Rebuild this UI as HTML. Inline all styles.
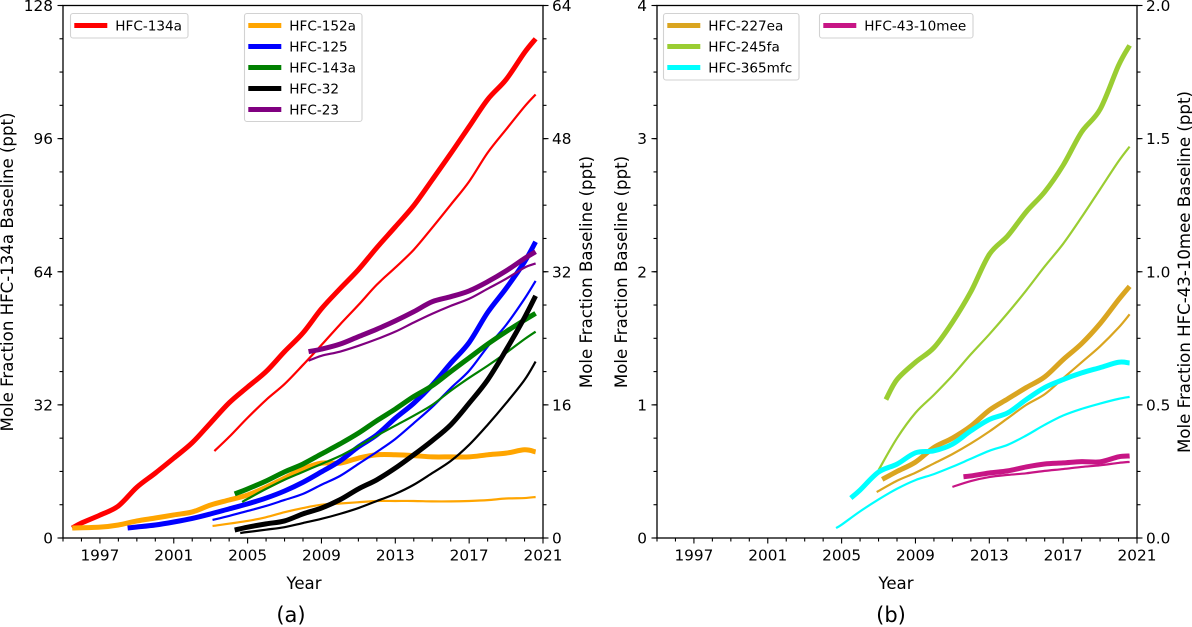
<!DOCTYPE html>
<html lang="en">
<head>
<meta charset="utf-8">
<title>HFC mole fractions</title>
<style>
html,body{margin:0;padding:0;background:#fff;}
svg{display:block;font-family:"DejaVu Sans","Liberation Sans",sans-serif;fill:#000;}
</style>
</head>
<body>
<svg id="chart" xmlns="http://www.w3.org/2000/svg" width="1192" height="627" viewBox="0 0 1192 627"></svg>
<script>
// ---- shared axis data ----
const xTickLabels = [1997, 2001, 2005, 2009, 2013, 2017, 2021];
const xDomain = [1995, 2021];
const yLeftTicksA = [0, 32, 64, 96, 128];
const yRightTicksA = [0, 16, 32, 48, 64];
const yLeftTicksB = [0, 1, 2, 3, 4];
const yRightTicksB = ["0.0", "0.5", "1.0", "1.5", "2.0"];

// ---- panel (a) data: HFC-134a in ppt on the left axis, others on the right axis ----
const yearsFull134 = [1995.5,1996,1997,1998,1999,2000,2001,2002,2003,2004,2005,2006,2007,2008,2009,2010,2011,2012,2013,2014,2015,2016,2017,2018,2019,2020,2020.6];
const hfc134aThick = [2.4,3.6,5.5,7.7,12.2,15.6,19.2,22.9,27.7,32.5,36.3,40,44.8,49.3,55.1,59.9,64.5,69.8,74.8,79.9,86.1,92.4,98.9,105.4,110.2,116.7,120];
const yearsThin134 = [2003.2,2004,2005,2006,2007,2008,2009,2010,2011,2012,2013,2014,2015,2016,2017,2018,2019,2020,2020.6];
const hfc134aThin = [20.9,24.3,28.9,33.2,37,41.6,46.4,51.3,56,60.9,65,69.3,74.6,80.1,85.7,92.6,98.2,103.7,106.6];

const yearsThick152 = [1995.5,1997,1998,1999,2000,2001,2002,2003,2004,2005,2006,2007,2008,2009,2010,2011,2012,2013,2014,2015,2016,2017,2018,2019,2020,2020.6];
const hfc152aThick = [1.2,1.3,1.56,2.05,2.4,2.77,3.13,3.97,4.57,5.17,6.1,7.2,8.3,9,9,9.6,10,10,9.9,9.75,9.75,9.75,10,10.2,10.6,10.35];
const yearsThin152 = [2003.1,2005,2006,2007,2008,2009,2010,2011,2012,2013,2014,2015,2016,2017,2018,2019,2020,2020.6];
const hfc152aThin = [1.44,2.05,2.5,3.1,3.6,4,4.15,4.3,4.45,4.45,4.45,4.4,4.4,4.45,4.55,4.75,4.8,4.93];

const yearsThick125 = [1998.5,1999,2000,2001,2002,2003,2004,2005,2006,2007,2008,2009,2010,2011,2012,2013,2014,2015,2016,2017,2018,2019,2020,2020.6];
const hfc125Thick = [1.2,1.32,1.56,1.92,2.35,2.9,3.5,4.1,4.8,5.65,6.7,7.95,9.25,10.95,12.4,14.4,16.2,18.4,21,23.5,27.1,30,33.2,35.6];
const yearsThin125 = [2003.1,2004,2005,2006,2007,2008,2009,2010,2011,2012,2013,2014,2015,2016,2017,2018,2019,2020,2020.6];
const hfc125Thin = [2.17,2.65,3.25,3.85,4.57,5.3,6.4,7.45,8.9,10.35,11.9,13.8,15.75,18,20.1,23,25.6,28.75,30.9];

const yearsThick143 = [2004.3,2005,2006,2007,2008,2009,2010,2011,2012,2013,2014,2015,2016,2017,2018,2019,2020,2020.6];
const hfc143aThick = [5.3,5.9,6.85,7.95,8.9,10.1,11.3,12.6,14.1,15.5,17,18.3,20,21.65,23.3,24.8,26.2,27];
const yearsThin143 = [2004.7,2005,2006,2007,2008,2009,2010,2011,2012,2013,2014,2015,2016,2017,2018,2019,2020,2020.6];
const hfc143aThin = [4.33,4.7,5.9,7,7.95,8.9,9.85,11.05,12.3,13.5,14.7,16,17.7,19.25,20.7,22.25,23.9,24.8];

const yearsThick32 = [2004.3,2005,2006,2007,2008,2009,2010,2011,2012,2013,2014,2015,2016,2017,2018,2019,2020,2020.6];
const hfc32Thick = [0.96,1.3,1.7,2.05,2.9,3.6,4.6,5.9,7,8.4,10,11.7,13.6,16.2,19,22.6,26.5,29.1];
const yearsThin32 = [2004.6,2005,2006,2007,2008,2009,2010,2011,2012,2013,2014,2015,2016,2017,2018,2019,2020,2020.6];
const hfc32Thin = [0.6,0.72,1,1.3,1.8,2.3,2.9,3.6,4.45,5.3,6.4,7.8,9.25,11.2,13.6,16.2,19,21.2];

const years23 = [2008.3,2009,2010,2011,2012,2013,2014,2015,2016,2017,2018,2019,2020,2020.6];
const hfc23Thick = [22.4,22.7,23.3,24.2,25.1,26.1,27.2,28.4,29,29.7,30.8,32.1,33.6,34.4];
const hfc23Thin = [21.3,21.9,22.4,23.1,23.9,24.8,25.9,26.95,27.9,28.75,29.95,31.15,32.5,33];

// ---- panel (b) data: 43-10mee on the right axis, others on the left axis ----
const yearsThick245 = [2007.4,2008,2009,2010,2011,2012,2013,2014,2015,2016,2017,2018,2019,2020,2020.6];
const hfc245faThick = [1.04,1.19,1.32,1.43,1.62,1.85,2.13,2.27,2.45,2.6,2.8,3.05,3.22,3.55,3.7];
const yearsThin245 = [2007,2008,2009,2010,2011,2012,2013,2014,2015,2016,2017,2018,2019,2020,2020.6];
const hfc245faThin = [0.51,0.75,0.94,1.075,1.22,1.38,1.53,1.69,1.86,2.04,2.21,2.41,2.62,2.83,2.94];

const yearsThick227 = [2007.2,2008,2009,2010,2011,2012,2013,2014,2015,2016,2017,2018,2019,2020,2020.6];
const hfc227eaThick = [0.44,0.5,0.57,0.68,0.75,0.84,0.96,1.045,1.13,1.21,1.34,1.46,1.61,1.79,1.89];
const yearsThin227 = [2006.9,2008,2009,2010,2011,2012,2013,2014,2015,2016,2017,2018,2019,2020,2020.6];
const hfc227eaThin = [0.345,0.43,0.49,0.56,0.63,0.71,0.8,0.9,1,1.08,1.2,1.32,1.44,1.58,1.68];

const yearsThick365 = [2005.5,2006,2007,2008,2009,2010,2011,2012,2013,2014,2015,2016,2017,2018,2019,2020,2020.6];
const hfc365mfcThick = [0.3,0.36,0.495,0.555,0.64,0.655,0.705,0.805,0.89,0.94,1.04,1.13,1.19,1.24,1.28,1.32,1.315];
const yearsThin365 = [2004.7,2005,2006,2007,2008,2009,2010,2011,2012,2013,2014,2015,2016,2017,2018,2019,2020,2020.6];
const hfc365mfcThin = [0.075,0.1,0.2,0.29,0.37,0.435,0.48,0.535,0.595,0.655,0.7,0.77,0.85,0.92,0.97,1.01,1.045,1.06];

const yearsThick4310 = [2011.6,2012,2013,2014,2015,2016,2017,2018,2019,2020,2020.6];
const hfc4310meeThick = [0.23,0.233,0.244,0.252,0.267,0.278,0.282,0.287,0.286,0.305,0.308];
const yearsThin4310 = [2011,2012,2013,2014,2015,2016,2017,2018,2019,2020,2020.6];
const hfc4310meeThin = [0.192,0.214,0.229,0.237,0.243,0.252,0.259,0.267,0.273,0.282,0.286];

// ---- helpers ----
const NS = "http://www.w3.org/2000/svg";
const root = document.getElementById("chart");
const TOP = 5.5, BOTTOM = 538;

function svgEl(tag, attrs, parent) {
  const el = document.createElementNS(NS, tag);
  for (const k in attrs) el.setAttribute(k, attrs[k]);
  parent.appendChild(el);
  return el;
}
function scaleX(panelLeft) {
  return function (year) {
    return panelLeft + (year - xDomain[0]) / (xDomain[1] - xDomain[0]) * 480;
  };
}
function scaleY(maxValue) {
  return function (value) {
    return BOTTOM - value / maxValue * (BOTTOM - TOP);
  };
}
function tick(parent, x1, y1, x2, y2, w) {
  const t = svgEl("line", { x1: x1, y1: y1, x2: x2, y2: y2, stroke: "#000", "stroke-width": w }, parent);
  
  
}
function label(parent, text, x, y, size, anchor, rotate, name) {
  const attrs = { x: x, y: y, "font-size": size, "text-anchor": anchor, fill: "#000" };
  if (rotate) attrs.transform = "rotate(" + rotate + " " + x + " " + y + ")";
  const t = svgEl("text", attrs, parent);
  t.textContent = text;
  
  
}
function smoothPath(pts) {
  // Catmull-Rom spline through the scaled data points
  let d = "M" + pts[0][0].toFixed(2) + " " + pts[0][1].toFixed(2);
  for (let i = 0; i < pts.length - 1; i++) {
    const p0 = pts[Math.max(i - 1, 0)], p1 = pts[i], p2 = pts[i + 1], p3 = pts[Math.min(i + 2, pts.length - 1)];
    const c1x = p1[0] + (p2[0] - p0[0]) / 6, c1y = p1[1] + (p2[1] - p0[1]) / 6;
    const c2x = p2[0] - (p3[0] - p1[0]) / 6, c2y = p2[1] - (p3[1] - p1[1]) / 6;
    d += "C" + c1x.toFixed(2) + " " + c1y.toFixed(2) + " " + c2x.toFixed(2) + " " + c2y.toFixed(2) + " " + p2[0].toFixed(2) + " " + p2[1].toFixed(2);
  }
  return d;
}
function drawSeries(parent, sx, sy, years, values, color, width, name) {
  const pts = years.map(function (yr, i) {
    return [sx(yr), sy(values[i])];
  });
  const p = svgEl("path", { d: smoothPath(pts), fill: "none", stroke: color, "stroke-width": width, "stroke-linejoin": "round" }, parent);
  
  
}
function drawLegend(parent, x, y, w, h, entries, name) {
  const g = svgEl("g", {}, parent);
  
  
  const box = svgEl("rect", { x: x, y: y, width: w, height: h, rx: 2.5, fill: "#fff", stroke: "#d2d2d2", "stroke-width": 1.1 }, g);
  
  
  entries.forEach(function (en, i) {
    const ly = y + 12 + i * 21;
    const sw = svgEl("line", { x1: x + 3.8, x2: x + 36.8, y1: ly, y2: ly, stroke: en[1], "stroke-width": 5 }, g);
    
    
    label(g, en[0], x + 44.8, ly + 5, 13.6, "start", 0, 'legend-entry');
  });
}
function drawFrame(parent, left, yLeftLabels, yRightLabels, leftMinorStep, rightMinorStep, maxL, maxR, titleL, titleR, titleLX, titleRX, xTitleX, panelTitle, panelTitleX) {
  const right = left + 480;
  const sx = scaleX(left);
  const sl = scaleY(maxL), sr = scaleY(maxR);
  for (let yr = xDomain[0]; yr <= xDomain[1]; yr++) {
    tick(parent, sx(yr), BOTTOM, sx(yr), BOTTOM + ((yr - 1997) % 4 === 0 ? 5.5 : 3.5), 1.1);
  }
  for (let v = 0; v <= maxL + 1e-9; v += leftMinorStep) {
    tick(parent, left, sl(v), left - 3.5, sl(v), 1.1);
  }
  for (let v = 0; v <= maxR + 1e-9; v += rightMinorStep) {
    tick(parent, right, sr(v), right + 3.5, sr(v), 1.1);
  }
  yLeftLabels.forEach(function (v) {
    tick(parent, left, sl(+v), left - 5.5, sl(+v), 1.1);
    label(parent, String(v), left - 10, sl(+v) + 5.6, 15.3, "end", 0, 'y-left-tick-label');
  });
  yRightLabels.forEach(function (v) {
    tick(parent, right, sr(+v), right + 5.5, sr(+v), 1.1);
    label(parent, String(v), right + 9, sr(+v) + 5.6, 15.3, "start", 0, 'y-right-tick-label');
  });
  xTickLabels.forEach(function (v) {
    label(parent, String(v), sx(v), 560.5, 15.3, "middle", 0, 'x-tick-label');
  });
  const frame = svgEl("rect", { x: left, y: TOP, width: 480, height: BOTTOM - TOP, fill: "none", stroke: "#000", "stroke-width": 1.3 }, parent);
  
  
  label(parent, "Year", xTitleX, 589, 16.6, "middle", 0, 'x-axis-title');
  label(parent, titleL, titleLX, 272, 16.6, "middle", -90, 'y-left-axis-title');
  label(parent, titleR, titleRX, 272, 16.6, "middle", -90, 'y-right-axis-title');
  label(parent, panelTitle, panelTitleX, 622, 21, "middle", 0, 'panel-caption');
}

// ---- panel (a) ----
const panelA = svgEl("g", {}, root);


drawFrame(panelA, 63, yLeftTicksA, yRightTicksA, 8, 4, 128, 64,
  "Mole Fraction HFC-134a Baseline (ppt)", "Mole Fraction Baseline (ppt)", 13, 592, 304, "(a)", 291);
const axL = scaleX(63), aL = scaleY(128), aR = scaleY(64);
drawSeries(panelA, axL, aL, yearsFull134, hfc134aThick, "#ff0000", 5, 'hfc-134a-thick-line');
drawSeries(panelA, axL, aL, yearsThin134, hfc134aThin, "#ff0000", 2.2, 'hfc-134a-thin-line');
drawSeries(panelA, axL, aR, yearsThick152, hfc152aThick, "#ffa500", 5, 'hfc-152a-thick-line');
drawSeries(panelA, axL, aR, yearsThin152, hfc152aThin, "#ffa500", 2.2, 'hfc-152a-thin-line');
drawSeries(panelA, axL, aR, yearsThick125, hfc125Thick, "#0000ff", 5, 'hfc-125-thick-line');
drawSeries(panelA, axL, aR, yearsThin125, hfc125Thin, "#0000ff", 2.2, 'hfc-125-thin-line');
drawSeries(panelA, axL, aR, yearsThick143, hfc143aThick, "#008000", 5, 'hfc-143a-thick-line');
drawSeries(panelA, axL, aR, yearsThin143, hfc143aThin, "#008000", 2.2, 'hfc-143a-thin-line');
drawSeries(panelA, axL, aR, yearsThick32, hfc32Thick, "#000000", 5, 'hfc-32-thick-line');
drawSeries(panelA, axL, aR, yearsThin32, hfc32Thin, "#000000", 2.2, 'hfc-32-thin-line');
drawSeries(panelA, axL, aR, years23, hfc23Thick, "#800080", 5, 'hfc-23-thick-line');
drawSeries(panelA, axL, aR, years23, hfc23Thin, "#800080", 2.2, 'hfc-23-thin-line');
drawLegend(panelA, 70.5, 13.5, 117.5, 24.5, [["HFC-134a", "#ff0000"]], 'legend-hfc-134a');
drawLegend(panelA, 244.5, 13.5, 117.5, 108, [["HFC-152a", "#ffa500"], ["HFC-125", "#0000ff"], ["HFC-143a", "#008000"], ["HFC-32", "#000000"], ["HFC-23", "#800080"]], 'legend-right-group');

// ---- panel (b) ----
const panelB = svgEl("g", {}, root);


drawFrame(panelB, 657, yLeftTicksB, yRightTicksB, 0.25, 0.125, 4, 2,
  "Mole Fraction Baseline (ppt)", "Mole Fraction HFC-43-10mee Baseline (ppt)", 627, 1190, 896, "(b)", 891);
const bxL = scaleX(657), bL = scaleY(4), bR = scaleY(2);
drawSeries(panelB, bxL, bL, yearsThick227, hfc227eaThick, "#daa520", 5, 'hfc-227ea-thick-line');
drawSeries(panelB, bxL, bL, yearsThin227, hfc227eaThin, "#daa520", 2.2, 'hfc-227ea-thin-line');
drawSeries(panelB, bxL, bL, yearsThick245, hfc245faThick, "#9acd32", 5, 'hfc-245fa-thick-line');
drawSeries(panelB, bxL, bL, yearsThin245, hfc245faThin, "#9acd32", 2.2, 'hfc-245fa-thin-line');
drawSeries(panelB, bxL, bL, yearsThick365, hfc365mfcThick, "#00ffff", 5, 'hfc-365mfc-thick-line');
drawSeries(panelB, bxL, bL, yearsThin365, hfc365mfcThin, "#00ffff", 2.2, 'hfc-365mfc-thin-line');
drawSeries(panelB, bxL, bR, yearsThick4310, hfc4310meeThick, "#c71585", 5, 'hfc-43-10mee-thick-line');
drawSeries(panelB, bxL, bR, yearsThin4310, hfc4310meeThin, "#c71585", 2.2, 'hfc-43-10mee-thin-line');
drawLegend(panelB, 663.5, 13.5, 135.5, 66.5, [["HFC-227ea", "#daa520"], ["HFC-245fa", "#9acd32"], ["HFC-365mfc", "#00ffff"]], 'legend-left-group');
drawLegend(panelB, 819.5, 13.5, 153.5, 24.5, [["HFC-43-10mee", "#c71585"]], 'legend-hfc-43-10mee');
</script>
</body>
</html>
